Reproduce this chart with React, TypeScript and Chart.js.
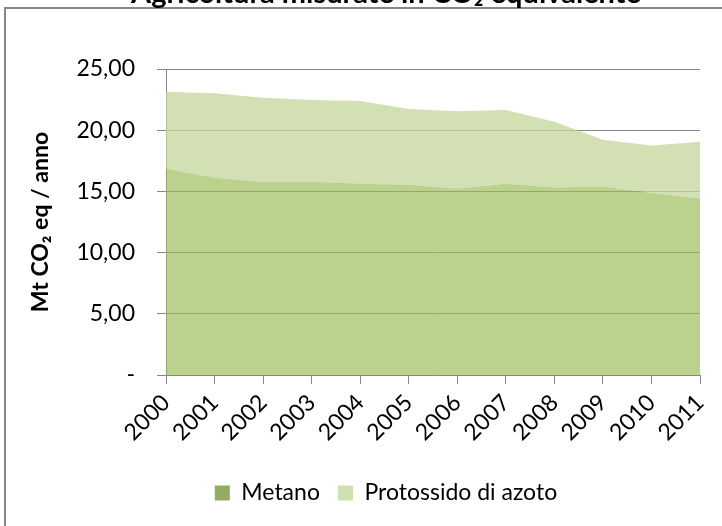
import { useEffect, useRef } from 'react';
import { Chart, registerables } from 'chart.js';
Chart.register(...registerables);

const years = ['2000', '2001', '2002', '2003', '2004', '2005', '2006', '2007', '2008', '2009', '2010', '2011'];
const metano = [16.85, 16.11, 15.76, 15.78, 15.62, 15.54, 15.21, 15.62, 15.32, 15.4, 14.86, 14.42];
const protossido = [6.3, 6.9, 6.89, 6.68, 6.76, 6.19, 6.33, 6.03, 5.37, 3.82, 3.9, 4.64];
const seriesNames = ['Metano', 'Protossido di azoto'];
const yTickValues = [0, 5, 10, 15, 20, 25];
const titleText = 'Agricoltura misurate in CO₂ equivalente';
const yTitleText = 'Mt CO₂ eq / anno';

const FAMILY = 'Lato, "Open Sans", sans-serif';
const AXIS = '#878787';
const areaColors = ['rgba(155,187,89,0.68)', 'rgba(195,214,155,0.75)'];
const legendColors = ['#94ab64', '#cfe0b0'];

export default function App() {
  const ref = useRef<HTMLCanvasElement>(null);
  useEffect(() => {
    const shift = {
      id: 'shiftBlocks',
      afterLayout(chart: any) {
        for (const b of [chart.legend, chart.titleBlock]) {
          if (b) {
            b.left += 24;
            b.right += 24;
          }
        }
      },
    };
    const chart = new Chart(ref.current as HTMLCanvasElement, {
      type: 'line',
      data: {
        labels: years,
        datasets: [
          {
            label: seriesNames[0],
            data: metano,
            fill: 'origin',
            backgroundColor: areaColors[0],
            borderColor: 'rgba(0,0,0,0)',
            borderWidth: 0,
            pointRadius: 0,
            tension: 0,
          },
          {
            label: seriesNames[1],
            data: protossido,
            fill: '-1',
            backgroundColor: areaColors[1],
            borderColor: 'rgba(0,0,0,0)',
            borderWidth: 0,
            pointRadius: 0,
            tension: 0,
          },
        ],
      },
      options: {
        responsive: false,
        animation: false,
        layout: { padding: { left: 24, right: 72, top: 0, bottom: 11.5 } },
        plugins: {
          title: {
            display: true,
            text: titleText,
            color: '#000',
            font: { family: FAMILY, size: 29, weight: 'bold' },
            padding: { top: 0.5, bottom: 57.7 },
          },
          legend: {
            position: 'bottom',
            labels: {
              boxWidth: 15,
              boxHeight: 15,
              padding: 18,
              color: '#000',
              font: { family: FAMILY, size: 23 },
              generateLabels: () =>
                seriesNames.map((t, i) => ({
                  text: t,
                  fillStyle: legendColors[i],
                  strokeStyle: legendColors[i],
                  lineWidth: 0,
                  hidden: false,
                  datasetIndex: i,
                  fontColor: '#000',
                })),
            },
          },
          tooltip: { enabled: false },
        },
        scales: {
          x: {
            grid: { drawOnChartArea: false, tickLength: 9, color: AXIS },
            border: { color: AXIS },
            ticks: {
              autoSkip: false,
              maxRotation: 45,
              minRotation: 45,
              padding: 5,
              color: '#000',
              font: { family: FAMILY, size: 23 },
            },
            afterFit: (s: any) => {
              s.height = 88.5;
            },
          },
          y: {
            stacked: true,
            min: 0,
            max: 25,
            afterBuildTicks: (s: any) => {
              s.ticks = yTickValues.map((v) => ({ value: v }));
            },
            ticks: {
              padding: 22,
              color: '#000',
              font: { family: FAMILY, size: 23 },
              callback: (v: any) => (Number(v) === 0 ? '-' : Number(v).toFixed(2).replace('.', ',')),
            },
            grid: { color: AXIS, tickLength: 9 },
            border: { color: AXIS },
            title: {
              display: true,
              text: yTitleText,
              color: '#000',
              font: { family: FAMILY, size: 23, weight: 'bold' },
              padding: { top: 3, bottom: 0 },
            },
            afterFit: (s: any) => {
              s.width = 142;
            },
          },
        },
      },
      plugins: [shift],
    });
    return () => chart.destroy();
  }, []);

  return (
    <div style={{ position: 'fixed', left: 0, top: 0, width: 722, height: 526, overflow: 'hidden', background: '#fff' }}>
      <div
        style={{
          position: 'absolute',
          left: 4,
          top: 7,
          width: 800,
          height: 600,
          borderLeft: `2px solid ${AXIS}`,
          borderTop: `2px solid ${AXIS}`,
        }}
      />
      <canvas
        ref={ref}
        width={772}
        height={550}
        style={{ position: 'absolute', left: 0, top: -24, width: 772, height: 550 }}
      />
    </div>
  );
}
